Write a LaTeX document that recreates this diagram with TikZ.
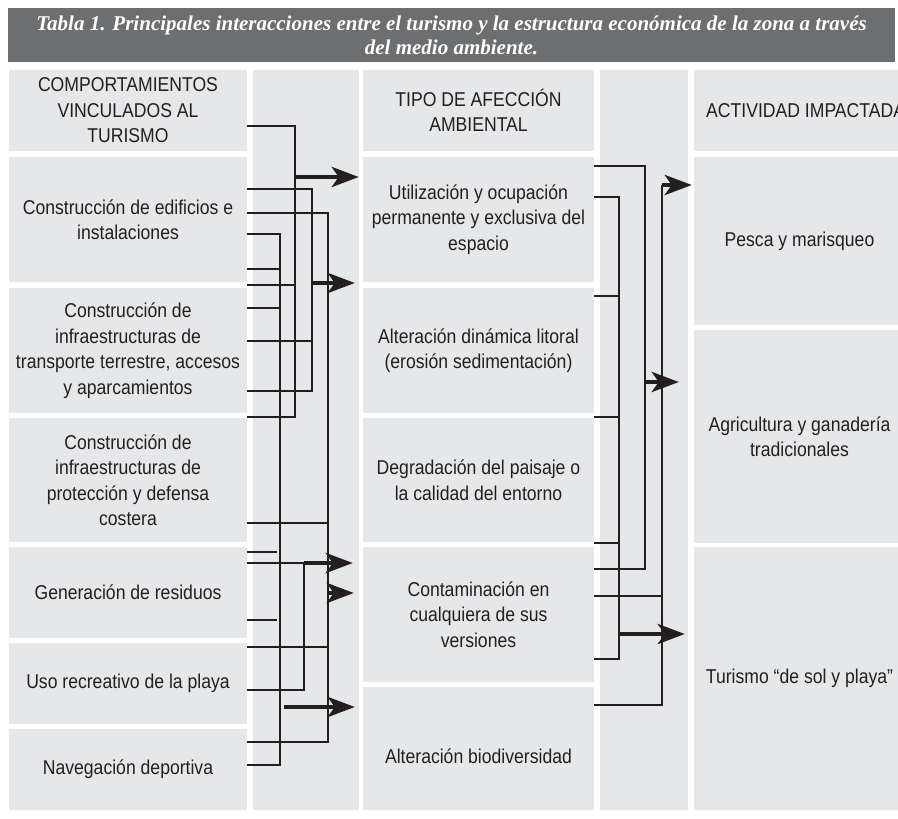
\documentclass[tikz,border=0pt]{standalone}
\usepackage{fontspec}
\setmainfont{Liberation Sans}[FakeStretch=0.88]
\newfontfamily\titlefont{Liberation Serif}
\usetikzlibrary{arrows.meta}
\definecolor{cellgray}{HTML}{E6E7E8}
\definecolor{bargray}{HTML}{6D6E70}
\definecolor{ink}{HTML}{231F20}
\tikzset{
  cell/.style={fill=cellgray,inner sep=0pt,align=center,text=ink,
    font=\fontsize{20}{25.5}\selectfont},
  col1/.style={cell,minimum width=238pt},
  col2/.style={cell,minimum width=231pt},
  col3/.style={cell,minimum width=211pt},
  wire/.style={draw=ink,line width=2.3pt},
  flow/.style={draw=ink,line width=4.5pt,-{Stealth[length=27pt,width=20pt,inset=7pt]}},
}
\begin{document}
\begin{tikzpicture}[x=1pt,y=-1pt]
\clip (0,0) rectangle (898,819);
\fill[white] (0,0) rectangle (898,819);
\node(title) at (451.5,35)[fill=bargray,minimum width=887pt,minimum height=54pt,text=white,align=center,
  font=\titlefont\bfseries\itshape\fontsize{21}{24}\selectfont]
  {Tabla 1. Principales interacciones entre el turismo y la estructura económica de la zona a través\\del medio ambiente.};
% strips for the links
\fill[cellgray] (253,70) rectangle (359,810);
\fill[cellgray] (600,70) rectangle (688,810);
% first column
\node(a0) at (128,110.5)[col1,minimum height=81pt]{COMPORTAMIENTOS\\VINCULADOS AL\\TURISMO};
\node(a1) at (128,219.5)[col1,minimum height=125pt]{Construcción de edificios e\\instalaciones};
\node(a2) at (128,350.5)[col1,minimum height=125pt]{Construcción de\\infraestructuras de\\transporte terrestre, accesos\\y aparcamientos};
\node(a3) at (128,480)[col1,minimum height=124pt]{Construcción de\\infraestructuras de\\protección y defensa\\costera};
\node(a4) at (128,592.5)[col1,minimum height=91pt]{Generación de residuos};
\node(a5) at (128,683.5)[col1,minimum height=81pt]{Uso recreativo de la playa};
\node(a6) at (128,769.5)[col1,minimum height=81pt]{Navegación deportiva};
% second column
\node(b0) at (478.5,110.5)[col2,minimum height=81pt]{TIPO DE AFECCIÓN\\AMBIENTAL};
\node(b1) at (478.5,219.5)[col2,minimum height=125pt]{Utilización y ocupación\\permanente y exclusiva del\\espacio};
\node(b2) at (478.5,350.5)[col2,minimum height=125pt]{Alteración dinámica litoral\\(erosión sedimentación)};
\node(b3) at (478.5,480)[col2,minimum height=124pt]{Degradación del paisaje o\\la calidad del entorno};
\node(b4) at (478.5,614.5)[col2,minimum height=135pt]{Contaminación en\\cualquiera de sus\\versiones};
\node(b5) at (478.5,748.5)[col2,minimum height=123pt,text height=30pt,text depth=0pt]{Alteración biodiversidad};
% third column
\node(c0) at (694,110.5)[cell,anchor=west,minimum width=211pt,minimum height=81pt,inner xsep=12pt]{ACTIVIDAD IMPACTADA};
\node(c1) at (799.5,241)[col3,minimum height=168pt]{Pesca y marisqueo};
\node(c2) at (799.5,436.5)[col3,minimum height=213pt]{Agricultura y ganadería\\tradicionales};
\node(c3) at (799.5,678.5)[col3,minimum height=263pt]{Turismo “de sol y playa”};
% links from the first column
\draw[wire] (a0.east |- 0,126) -| (295,417) -- (a3.east |- 0,417);
\draw[wire] (a1.east |- 0,285) -- (295,285);
\draw[wire] (a1.east |- 0,189) -| (312,391) -- (a2.east |- 0,391);
\draw[wire] (a2.east |- 0,341) -- (312,341);
\draw[wire] (a1.east |- 0,213) -| (328,742) -- (a6.east |- 0,742);
\draw[wire] (a3.east |- 0,523) -- (328,523);
\draw[wire] (a4.east |- 0,563) -- (328,563);
\draw[wire] (a5.east |- 0,647) -- (328,647);
\draw[wire] (a1.east |- 0,234) -| (280,765) -- (a6.east |- 0,765);
\draw[wire] (a1.east |- 0,269) -- (280,269);
\draw[wire] (a2.east |- 0,308) -- (280,308);
\draw[wire] (a4.east |- 0,552) -- (277,552);
\draw[wire] (a4.east |- 0,620) -- (277,620);
\draw[wire] (304,563) |- (a5.east |- 0,690);
\draw[flow,shorten >=4pt] (295,177) -- (b1.west |- 0,177);
\draw[flow,shorten >=8pt] (312,283) -- (b2.west |- 0,283);
\draw[flow,shorten >=10pt] (304,563) -- (b4.west |- 0,563);
\draw[flow,shorten >=9pt] (328,593) -- (b4.west |- 0,593);
\draw[flow,shorten >=8pt] (284,707) -- (b5.west |- 0,707);
% links from the second column
\draw[wire] (b1.east |- 0,197) -| (619,659) -- (b4.east |- 0,659);
\draw[wire] (b1.east |- 0,296) -- (619,296);
\draw[wire] (b3.east |- 0,417) -- (619,417);
\draw[wire] (b3.east |- 0,543) -- (619,543);
\draw[wire] (b1.east |- 0,166) -| (645,569) -- (b4.east |- 0,569);
\draw[wire] (662,185) |- (b5.east |- 0,705);
\draw[wire] (b4.east |- 0,596) -- (662,596);
\draw[flow,shorten >=2pt] (662,185) -- (c1.west |- 0,185);
\draw[flow,shorten >=15pt] (645,382) -- (c2.west |- 0,382);
\draw[flow,shorten >=9pt] (619,634) -- (c3.west |- 0,634);
\end{tikzpicture}
\end{document}
